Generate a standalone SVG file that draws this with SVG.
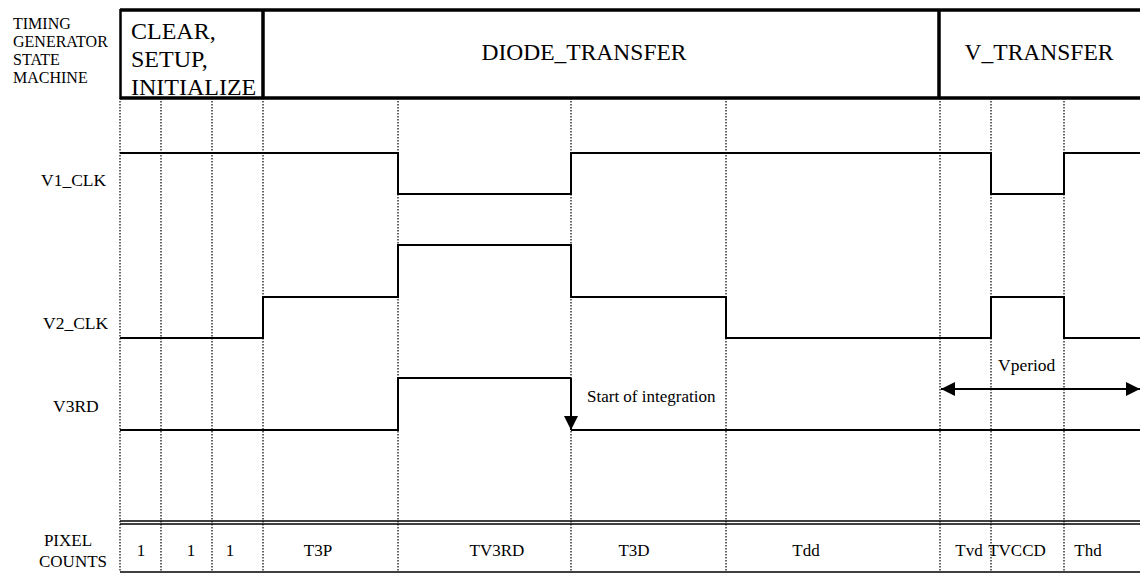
<svg xmlns="http://www.w3.org/2000/svg" width="1140" height="574" viewBox="0 0 1140 574">
<defs>
<style>
text{font-family:"Liberation Serif","Times New Roman",serif;fill:#000}
.lab{font-size:16px}
.sig{font-size:17.5px}
.hdr{font-size:23.5px}
.clr{font-size:24px}
.cnt{font-size:17px;text-anchor:middle}
.dot{stroke:#000;stroke-width:1.2;stroke-dasharray:1.5,1.5;fill:none}
.wave{stroke:#000;stroke-width:2;fill:none}
.thick{stroke:#000;stroke-width:3.5;fill:none}
.thin{stroke:#000;stroke-width:1.4;fill:none}
</style>
<marker id="ah" viewBox="0 0 10 10" refX="10" refY="5" markerWidth="14" markerHeight="14" markerUnits="userSpaceOnUse" orient="auto-start-reverse">
<path d="M0,0 L10,5 L0,10 Z" fill="#000"/>
</marker>
</defs>
<rect width="1140" height="574" fill="#fff"/>
<g id="grid">
<line class="dot" x1="120" y1="98" x2="120" y2="572"/>
<line class="dot" x1="161" y1="98" x2="161" y2="572"/>
<line class="dot" x1="212" y1="98" x2="212" y2="572"/>
<line class="dot" x1="263" y1="98" x2="263" y2="572"/>
<line class="dot" x1="398" y1="98" x2="398" y2="572"/>
<line class="dot" x1="571" y1="98" x2="571" y2="572"/>
<line class="dot" x1="726" y1="98" x2="726" y2="572"/>
<line class="dot" x1="940" y1="98" x2="940" y2="572"/>
<line class="dot" x1="991" y1="98" x2="991" y2="572"/>
<line class="dot" x1="1064" y1="98" x2="1064" y2="572"/>
</g>
<g id="state-labels">
<text class="lab" x="13" y="29">TIMING</text>
<text class="lab" x="13" y="47">GENERATOR</text>
<text class="lab" x="13" y="65">STATE</text>
<text class="lab" x="13" y="83">MACHINE</text>
</g>
<g id="header">
<line class="thick" x1="120" y1="10" x2="1140" y2="10"/>
<line class="thick" x1="120" y1="98" x2="1140" y2="98"/>
<line x1="120.5" y1="9" x2="120.5" y2="99" stroke="#000" stroke-width="2.5"/>
<line class="thick" x1="263" y1="9" x2="263" y2="99"/>
<line class="thick" x1="939" y1="9" x2="939" y2="99"/>
</g>
<g id="state-clear">
<text class="clr" x="131" y="39">CLEAR,</text>
<text class="clr" x="131" y="67">SETUP,</text>
<text class="clr" x="131" y="95">INITIALIZE</text>
</g>
<g id="state-diode">
<text class="hdr" x="584" y="60" text-anchor="middle">DIODE_TRANSFER</text>
</g>
<g id="state-vtransfer">
<text class="hdr" x="1039" y="60" text-anchor="middle">V_TRANSFER</text>
</g>
<g id="v1clk">
<text class="sig" x="41" y="186">V1_CLK</text>
<polyline class="wave" points="120,153 398,153 398,194 571,194 571,153 991,153 991,194 1064,194 1064,153 1140,153"/>
</g>
<g id="v2clk">
<text class="sig" x="43" y="329">V2_CLK</text>
<polyline class="wave" points="120,338 263,338 263,297 398,297 398,245 571,245 571,297 726,297 726,338 991,338 991,297 1064,297 1064,338 1140,338"/>
</g>
<g id="v3rd">
<text class="sig" x="53" y="412">V3RD</text>
<polyline class="wave" points="120,430 398,430 398,378 571,378"/>
<line class="wave" x1="571" y1="430" x2="1140" y2="430"/>
</g>
<g id="connectors">
<line class="wave" x1="571" y1="378" x2="571" y2="430" marker-end="url(#ah)"/>
<line class="wave" x1="941" y1="389" x2="1140" y2="389" marker-start="url(#ah)" marker-end="url(#ah)"/>
</g>
<g id="annotations">
<text class="sig" x="587" y="402" style="font-size:17px">Start of integration</text>
<text class="sig" x="998" y="371">Vperiod</text>
</g>
<g id="pixel-counts">
<line class="thin" x1="120" y1="521" x2="1140" y2="521"/>
<line class="thin" x1="120" y1="524" x2="1140" y2="524"/>
<line class="thin" x1="120" y1="572" x2="1140" y2="572"/>
<text class="cnt" x="68" y="546">PIXEL</text>
<text class="cnt" x="73" y="567">COUNTS</text>
<text class="cnt" x="141" y="556">1</text>
<text class="cnt" x="191" y="556">1</text>
<text class="cnt" x="230" y="556">1</text>
<text class="cnt" x="318" y="556">T3P</text>
<text class="cnt" x="497" y="556">TV3RD</text>
<text class="cnt" x="634" y="556">T3D</text>
<text class="cnt" x="806" y="556">Tdd</text>
<text class="cnt" x="969" y="556">Tvd</text>
<text class="cnt" x="1017" y="556">TVCCD</text>
<text class="cnt" x="1088" y="556">Thd</text>
</g>
</svg>
